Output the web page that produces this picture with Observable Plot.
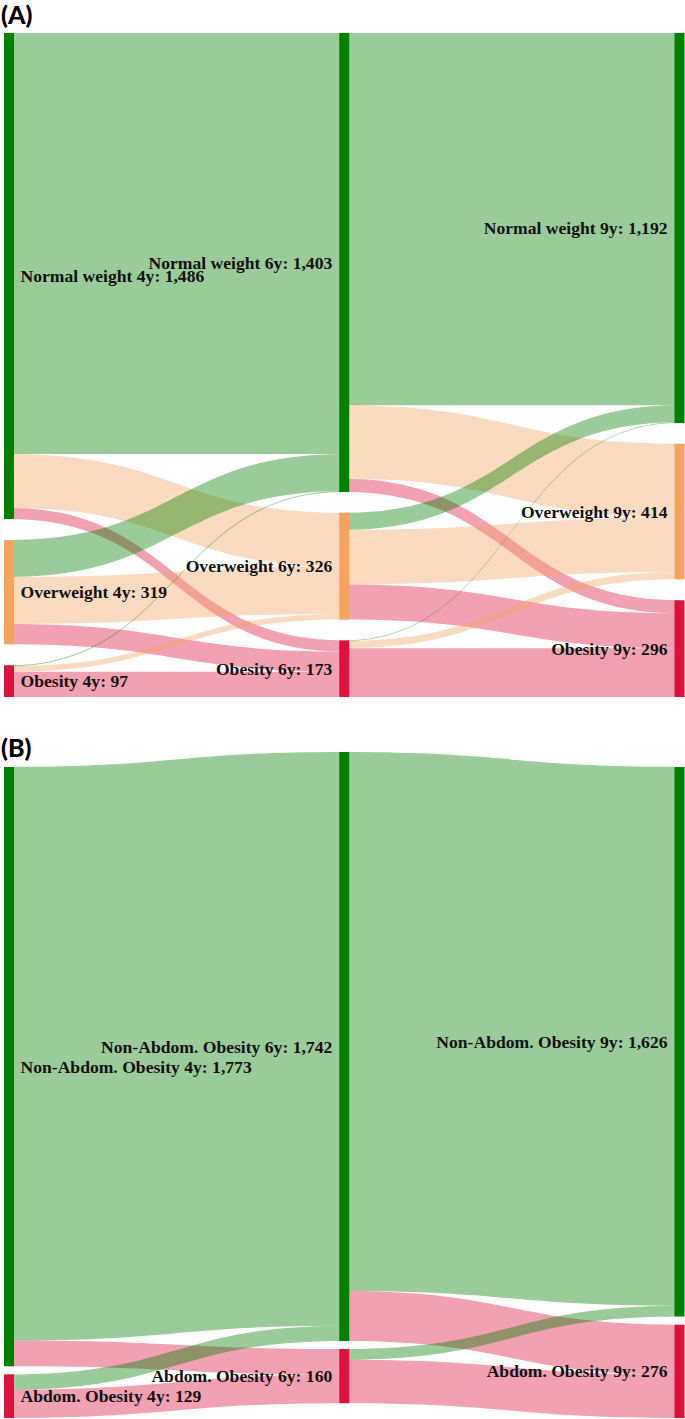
<!DOCTYPE html>
<html>
<head>
<meta charset="utf-8">
<script src="https://cdn.jsdelivr.net/npm/d3@7"></script>
<script src="https://cdn.jsdelivr.net/npm/@observablehq/plot@0.6"></script>
<style>
  html, body { margin: 0; padding: 0; background: #fff; }
  #wrap { position: relative; width: 685px; height: 1419px; overflow: hidden; }
  #wrap svg { display: block; }
  .ptitle { position: absolute; left: 1px; font-family: Lato, "Open Sans", sans-serif; font-weight: 900; font-size: 25px; line-height: 1.2; color: #000; }
</style>
</head>
<body>
<div id="wrap">
  <div class="ptitle" style="top:-1px">(A)</div>
  <div class="ptitle" style="top:732px">(B)</div>
</div>
<script>
// ---------------- DATA ----------------
const stages = ["4y", "6y", "9y"];

// Panel A: weight status
const categoriesA = ["Normal weight", "Overweight", "Obesity"];
const colorsA = ["green", "sandybrown", "crimson"];
const countsA = [[1486, 319, 97], [1403, 326, 173], [1192, 414, 296]];
// flows[source][target]
const flowsA_4to6 = [[1287, 165, 34], [113, 144, 62], [3, 17, 77]];
const flowsA_6to9 = [[1138, 225, 40], [52, 167, 107], [2, 22, 149]];

// Panel B: abdominal obesity
const categoriesB = ["Non-Abdom. Obesity", "Abdom. Obesity"];
const colorsB = ["green", "crimson"];
const countsB = [[1773, 129], [1742, 160], [1626, 276]];
const flowsB_4to6 = [[1697, 76], [45, 84]];
const flowsB_6to9 = [[1594, 148], [32, 128]];

// ---------------- LAYOUT (value units) ----------------
function layout(categories, colors, counts, flows, gap, offsets) {
  const nodes = [];
  counts.forEach((col, c) => {
    let y = offsets[c];
    col.forEach((v, i) => {
      nodes.push({col: c, idx: i, y0: y, y1: y + v, mid: y + v / 2, color: colors[i],
        label: `${categories[i]} ${stages[c]}: ${d3.format(",")(v)}`});
      y += v + gap;
    });
  });
  const node = (c, i) => nodes.find(n => n.col === c && n.idx === i);
  const rows = [];
  let id = 0;
  flows.forEach((mat, s) => {
    const outStart = {}, inStart = {};
    mat.forEach((row, i) => {
      let y = node(s, i).y0;
      row.forEach((v, j) => { outStart[i + "-" + j] = y; y += v; });
    });
    counts[s + 1].forEach((_, j) => {
      let y = node(s + 1, j).y0;
      mat.forEach((row, i) => { inStart[i + "-" + j] = y; y += row[j]; });
    });
    mat.forEach((row, i) => row.forEach((v, j) => {
      const k = i + "-" + j;
      rows.push({id, x: s, y1: outStart[k], y2: outStart[k] + v, color: colors[j]});
      rows.push({id, x: s + 1, y1: inStart[k], y2: inStart[k] + v, color: colors[j]});
      id++;
    }));
  });
  return {nodes, rows};
}

function sankey({categories, colors, counts, flows, gap, offsets, extent, height, marginTop, marginBottom}) {
  const {nodes, rows} = layout(categories, colors, counts, flows, gap, offsets);
  const font = {fontFamily: "'Liberation Serif', 'Times New Roman', serif", fontWeight: "bold", fontSize: 17.6, fill: "#111"};
  return Plot.plot({
    width: 685,
    height,
    marginTop,
    marginBottom,
    marginLeft: 8.5,
    marginRight: 6,
    x: {domain: [0, 2], axis: null},
    y: {domain: [0, extent], reverse: true, axis: null},
    color: {type: "identity"},
    marks: [
      Plot.areaY(rows, {x: "x", y1: "y1", y2: "y2", z: "id", fill: "color", fillOpacity: 0.4, curve: "bump-x"}),
      Plot.ruleX(nodes, {x: "col", y1: "y0", y2: "y1", stroke: "color", strokeWidth: 10}),
      Plot.text(nodes.filter(n => n.col === 0), {x: "col", y: "mid", text: "label", textAnchor: "start", dx: 11.5, ...font}),
      Plot.text(nodes.filter(n => n.col > 0), {x: "col", y: "mid", text: "label", textAnchor: "end", dx: -12, ...font})
    ]
  });
}

const wrap = document.getElementById("wrap");
const svgA = sankey({categories: categoriesA, colors: colorsA, counts: countsA,
  flows: [flowsA_4to6, flowsA_6to9], gap: 64, offsets: [0, 0, 0], extent: 2030,
  height: 700, marginTop: 33, marginBottom: 3});
const svgB = sankey({categories: categoriesB, colors: colorsB, counts: countsB,
  flows: [flowsB_4to6, flowsB_6to9], gap: 24, offsets: [44, 0, 44], extent: 1970,
  height: 719, marginTop: 52, marginBottom: 1});
wrap.insertBefore(svgA, wrap.firstChild);
wrap.insertBefore(svgB, wrap.children[1]);
</script>
</body>
</html>
